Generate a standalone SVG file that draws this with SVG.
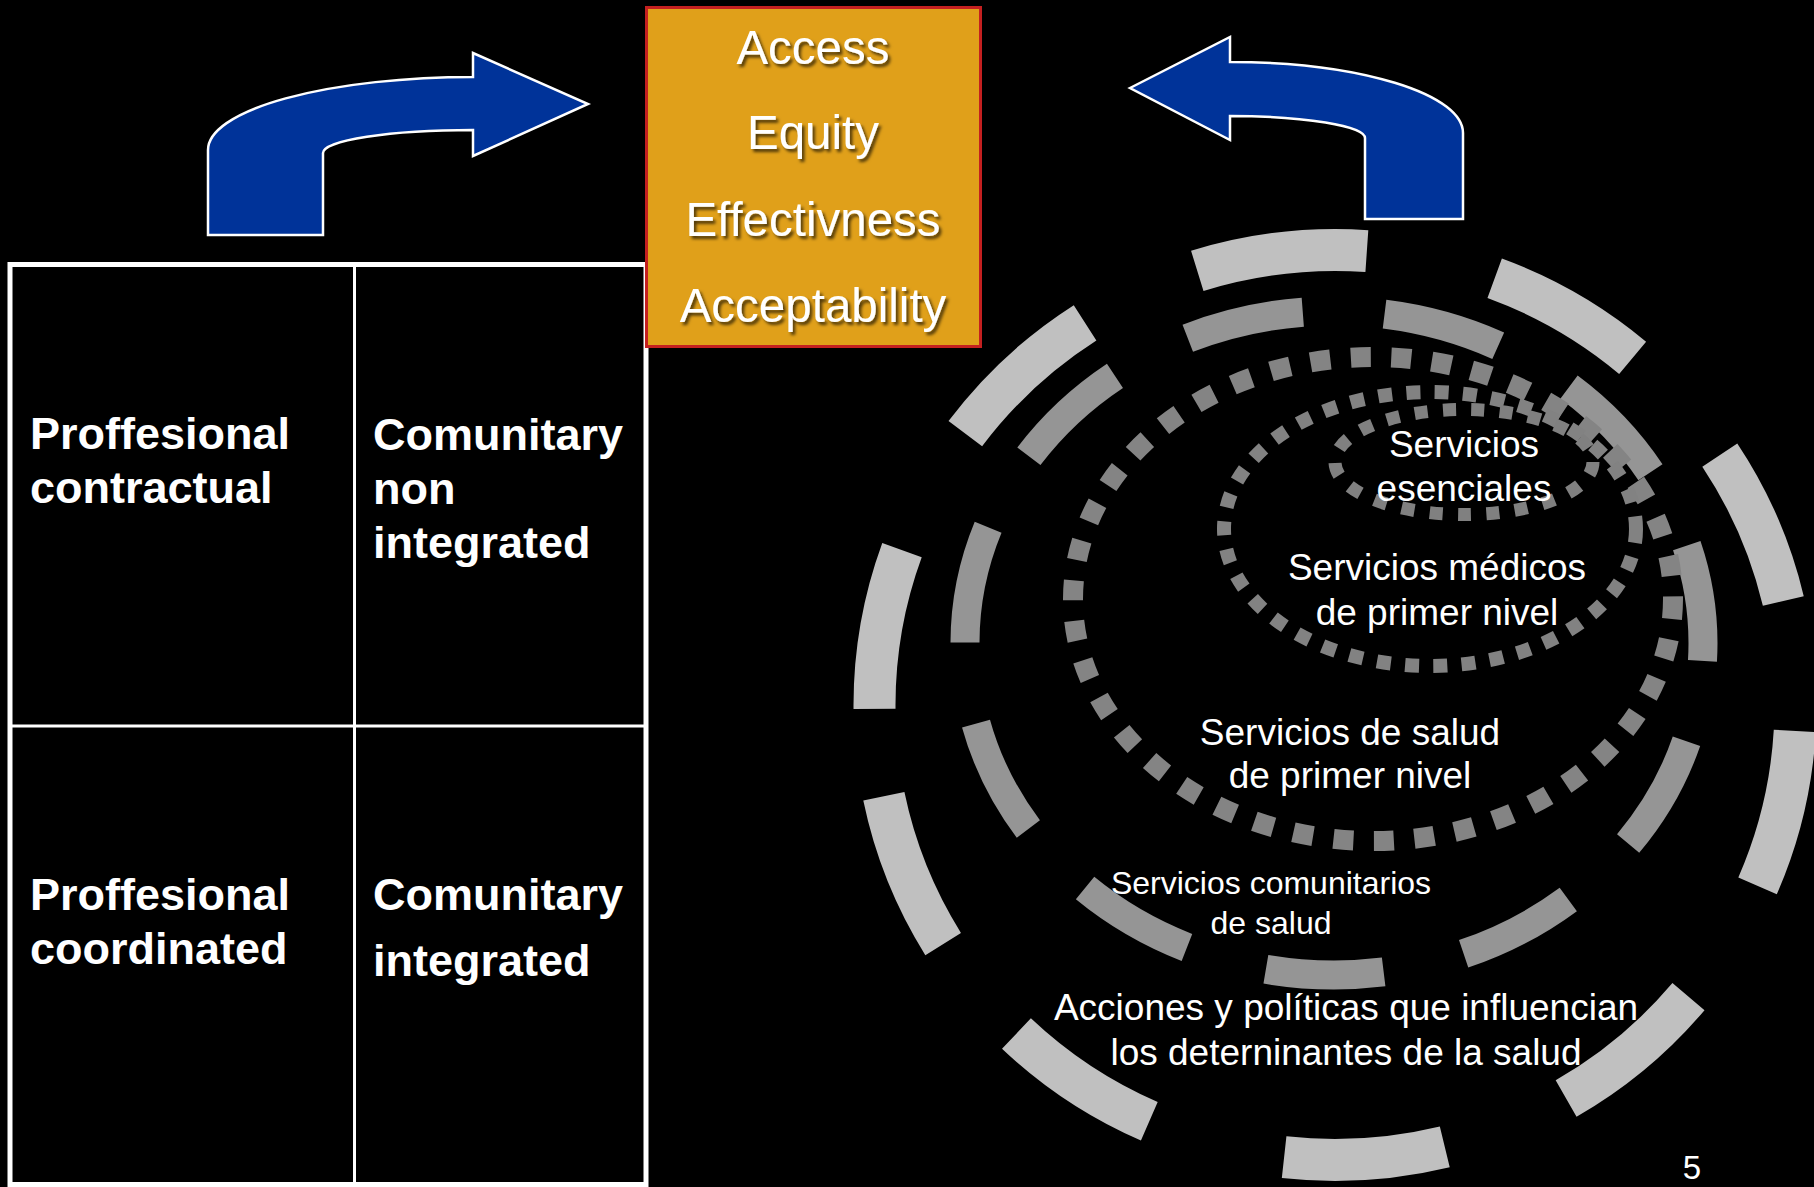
<svg xmlns="http://www.w3.org/2000/svg" width="1814" height="1187" viewBox="0 0 1814 1187">
<defs>
<style>
.bg{fill:#000}
.cell{fill:none;stroke:#fff}
.tb{font-family:"Liberation Sans",Arial,sans-serif;font-weight:bold;font-size:45px;fill:#fff}
.bx{font-family:"Liberation Sans",Arial,sans-serif;font-size:47.5px;fill:#fff;text-anchor:middle}
.rt{font-family:"Liberation Sans",Arial,sans-serif;font-size:37px;fill:#fff;text-anchor:middle}
.rs{font-family:"Liberation Sans",Arial,sans-serif;font-size:32px;fill:#fff;text-anchor:middle}
.arrow{fill:#003399;stroke:#fff;stroke-width:2.5;stroke-linejoin:miter}
.ring{fill:none}
.outer{fill:none;stroke:#c0c0c0;stroke-width:42}
</style>
<filter id="sh" x="-10%" y="-20%" width="130%" height="150%">
<feDropShadow dx="2.5" dy="3" stdDeviation="1.5" flood-color="#000" flood-opacity="0.65"/>
</filter>
</defs>
<rect class="bg" x="0" y="0" width="1814" height="1187"/>

<g id="rings">
<path class="outer" d="M1335,250 A460.5,455 0 0 1 1335,1160" stroke-dasharray="160 131" stroke-dashoffset="128"/>
<path class="outer" d="M1335,1160 A460.5,455 0 0 1 1335,250" stroke-dasharray="51 140 160 116 160 88 162 133 164 124 200 1000"/>
<ellipse class="ring" cx="1334" cy="643" rx="369" ry="332" stroke="#959595" stroke-width="29" stroke-dasharray="118.3 82.05" stroke-dashoffset="100.2"/>
<ellipse class="ring" cx="1373" cy="599" rx="300" ry="242" stroke="#848484" stroke-width="20" stroke-dasharray="20 20.58"/>
<ellipse class="ring" cx="1430" cy="529" rx="206" ry="137" stroke="#828282" stroke-width="14" stroke-dasharray="14 14.3"/>
<ellipse class="ring" cx="1464" cy="462" rx="129" ry="52.5" stroke="#808080" stroke-width="13" stroke-dasharray="13 15.37"/>
</g>

<g id="ring-labels">
<text class="rt" x="1464" y="457">Servicios</text>
<text class="rt" x="1464" y="501">esenciales</text>
<text class="rt" x="1437" y="580">Servicios médicos</text>
<text class="rt" x="1437" y="625">de primer nivel</text>
<text class="rt" x="1350" y="745">Servicios de salud</text>
<text class="rt" x="1350" y="788">de primer nivel</text>
<text class="rs" x="1271" y="894">Servicios comunitarios</text>
<text class="rs" x="1271" y="934">de salud</text>
<text class="rt" x="1346" y="1020">Acciones y políticas que influencian</text>
<text class="rt" x="1346" y="1065">los deterninantes de la salud</text>
</g>

<g id="table">
<rect class="cell" x="10" y="264.5" width="636" height="920" stroke-width="5"/>
<line class="cell" x1="354.5" y1="264" x2="354.5" y2="1185" stroke-width="3"/>
<line class="cell" x1="10" y1="726" x2="646" y2="726" stroke-width="3"/>
</g>

<g id="cell-pc">
<text class="tb" x="30" y="449">Proffesional</text>
<text class="tb" x="30" y="503">contractual</text>
</g>
<g id="cell-cni">
<text class="tb" x="373" y="450">Comunitary</text>
<text class="tb" x="373" y="504">non</text>
<text class="tb" x="373" y="558">integrated</text>
</g>
<g id="cell-pco">
<text class="tb" x="30" y="910">Proffesional</text>
<text class="tb" x="30" y="964">coordinated</text>
</g>
<g id="cell-ci">
<text class="tb" x="373" y="910">Comunitary</text>
<text class="tb" x="373" y="976">integrated</text>
</g>

<g id="goals">
<rect x="646.5" y="7.5" width="334" height="339" fill="#e0a01a" stroke="#c42020" stroke-width="3"/>
<g filter="url(#sh)">
<text class="bx" x="813" y="64">Access</text>
<text class="bx" x="813" y="149">Equity</text>
<text class="bx" x="813" y="236">Effectivness</text>
<text class="bx" x="813" y="322">Acceptability</text>
</g>
</g>

<g id="connectors">
<path class="arrow" d="M208,235 L208,150 A265,73 0 0 1 473,77 L473,53 L588,104 L473,156 L473,130 A150,23 0 0 0 323,153 L323,235 Z"/>
<path class="arrow" d="M1130,88 L1230,37 L1230,62 A233,71 0 0 1 1463,133 L1463,219 L1365,219 L1365,138 A135,22 0 0 0 1230,116 L1230,140 Z"/>
</g>

<text x="1692" y="1179" font-family="Liberation Sans, Arial, sans-serif" font-size="33" fill="#fff" text-anchor="middle">5</text>
</svg>
